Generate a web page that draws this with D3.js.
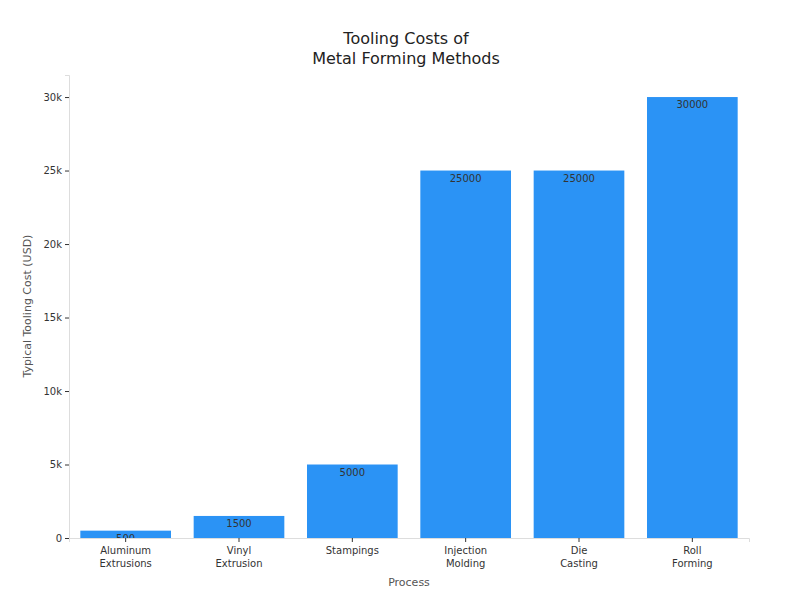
<!DOCTYPE html>
<html><head><meta charset="UTF-8">
<script src="https://d3js.org/d3.v7.min.js"></script>
<style>body{margin:0;background:#fff}text{font-family:"DejaVu Sans",sans-serif}</style>
</head><body><svg id="c" width="800" height="600"></svg>
<script>
const categories = ["Aluminum\nExtrusions","Vinyl\nExtrusion","Stampings","Injection\nMolding","Die\nCasting","Roll\nForming"];
const costs = [500,1500,5000,25000,25000,30000];
const yTicks = [0,5000,10000,15000,20000,25000,30000];
const yTickLabels = ["0","5k","10k","15k","20k","25k","30k"];

const svg = d3.select("#c");
const m = {l:69, r:749, t:75, b:538};
const x = d3.scaleBand().domain(categories).range([m.l, m.r]).paddingInner(0.2).paddingOuter(0.1);
const y = d3.scaleLinear().domain([0,31500]).range([m.b, m.t]);

svg.append("text").attr("x",406).attr("y",44).attr("text-anchor","middle").attr("font-size",16).attr("fill","#222").text("Tooling Costs of");
svg.append("text").attr("x",406).attr("y",64).attr("text-anchor","middle").attr("font-size",16).attr("fill","#222").text("Metal Forming Methods");

const gy = svg.append("g").attr("transform",`translate(${m.l},0)`)
  .call(d3.axisLeft(y).tickValues(yTicks).tickFormat((d,i)=>yTickLabels[i]).tickSize(4));
gy.select(".domain").attr("stroke","#ddd");
gy.selectAll(".tick line").attr("stroke","#333");
gy.selectAll("text").attr("font-size",10).attr("fill","#333");

const gx = svg.append("g").attr("transform",`translate(0,${m.b})`)
  .call(d3.axisBottom(x).tickSize(4).tickFormat(""));
gx.select(".domain").attr("stroke","#ddd");
gx.selectAll(".tick line").attr("stroke","#333");
gx.selectAll(".tick").append("text").attr("fill","#333").attr("font-size",10).attr("text-anchor","middle")
  .each(function(d){ d.split("\n").forEach((s,i)=>d3.select(this).append("tspan").attr("x",0).attr("y",16+i*13).text(s)); });

const defs = svg.append("defs");
categories.forEach((c,i)=>{
  defs.append("clipPath").attr("id","cl"+i).append("rect")
    .attr("x",x(c)).attr("y",y(costs[i])).attr("width",x.bandwidth()).attr("height",m.b-y(costs[i]));
});
svg.selectAll(".bar").data(categories).join("rect")
  .attr("x",d=>x(d)).attr("y",(d,i)=>y(costs[i])).attr("width",x.bandwidth())
  .attr("height",(d,i)=>m.b-y(costs[i])).attr("fill","#2b93f5");
svg.selectAll(".lbl").data(categories).join("text")
  .attr("clip-path",(d,i)=>`url(#cl${i})`)
  .attr("x",d=>x(d)+x.bandwidth()/2).attr("y",(d,i)=>y(costs[i])+11)
  .attr("text-anchor","middle").attr("font-size",10).attr("fill","#333").text((d,i)=>costs[i]);

svg.append("text").attr("x",409).attr("y",586).attr("text-anchor","middle").attr("font-size",11).attr("fill","#555").text("Process");
svg.append("text").attr("transform","translate(31,306) rotate(-90)").attr("text-anchor","middle").attr("font-size",11).attr("fill","#555").text("Typical Tooling Cost (USD)");
</script></body></html>
